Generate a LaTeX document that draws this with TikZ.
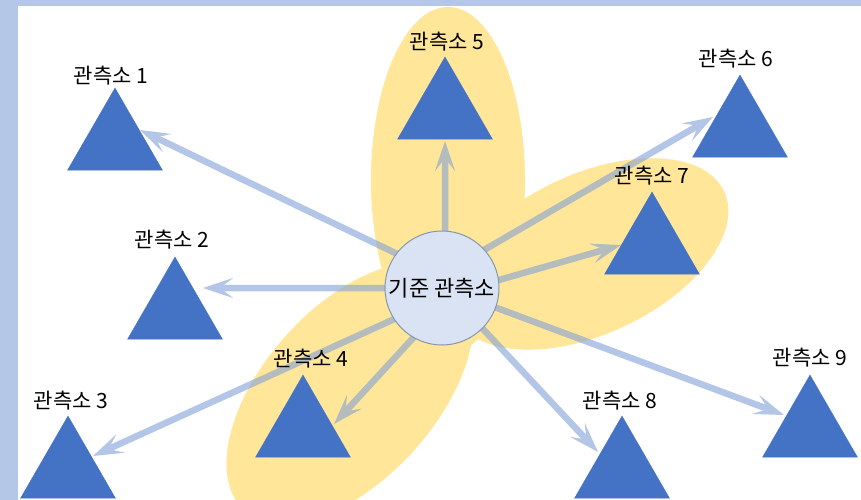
\documentclass[tikz,border=0pt]{standalone}
\usepackage{fontspec}
\setmainfont{Noto Sans CJK KR}
\usetikzlibrary{shapes.geometric,arrows.meta}
\definecolor{bandc}{HTML}{B4C7E7}
\definecolor{yel}{HTML}{FFE699}
\definecolor{tric}{HTML}{4472C4}
\definecolor{cfill}{HTML}{DAE3F3}
\definecolor{cline}{HTML}{8497B0}
\definecolor{arrc}{RGB}{130,160,215}
\pgfdeclarelayer{bg}
\pgfdeclarelayer{arr}
\pgfsetlayers{bg,arr,main}
\begin{document}
\begin{tikzpicture}[x=1pt,y=-1pt,
  tri/.style={regular polygon, regular polygon sides=3, minimum size=109.7pt, inner sep=0pt, fill=tric, draw=tric, line width=0.3pt},
  lab/.style={font=\fontsize{21}{24}\selectfont, text=black, inner sep=0pt},
  flow/.style={draw=arrc, line width=6.5pt, -{Stealth[length=30pt,width=20pt,inset=13pt]}, shorten <=-6pt},
  hub/.style={circle, minimum size=114pt, inner sep=0pt, fill=cfill, draw=cline, line width=1pt, font=\fontsize{22}{26}\selectfont},
  zone/.style={fill=yel}]
\useasboundingbox (0,0) rectangle (861,500);
% main nodes
\node[hub] (c) at (442,288) {기준 관측소};
\node[tri] (t1) at (115,142.8) {};
\node[tri] (t2) at (175,311.8) {};
\node[tri] (t3) at (68,470.8) {};
\node[tri] (t4) at (303,429.8) {};
\node[tri] (t5) at (445,111.8) {};
\node[tri] (t6) at (740,129.8) {};
\node[tri] (t7) at (652,246.8) {};
\node[tri] (t8) at (622,470.8) {};
\node[tri] (t9) at (810,429.8) {};
\node[lab] (l1) at (111,76) {관측소 1};
\node[lab] (l2) at (172,240) {관측소 2};
\node[lab] (l3) at (71,401) {관측소 3};
\node[lab] (l4) at (311,359) {관측소 4};
\node[lab] (l5) at (447,42) {관측소 5};
\node[lab] (l6) at (736,59) {관측소 6};
\node[lab] (l7) at (652,176) {관측소 7};
\node[lab] (l8) at (620,401) {관측소 8};
\node[lab] (l9) at (810,358) {관측소 9};
% arrow end points
\coordinate (e1) at (140,130);
\coordinate (e2) at (203,288);
\coordinate (e3) at (93,456);
\coordinate (e4) at (334,424);
\coordinate (e5) at (445,141);
\coordinate (e6) at (713,117);
\coordinate (e7) at (621,245);
\coordinate (e8) at (598,452);
\coordinate (e9) at (784,415);
\begin{pgfonlayer}{bg}
\fill[bandc] (0,0) rectangle (861,500);
\fill[white] (18,6) rectangle (861,500);
\fill[zone] (448,180) ellipse (77 and 173);
\fill[zone, rotate around={25:(590,254)}] (590,254) ellipse (148 and 80);
\fill[zone, rotate around={48:(350,393)}] (350,393) ellipse (158 and 86);
\end{pgfonlayer}
\begin{pgfonlayer}{arr}
\begin{scope}[transparency group, opacity=0.6]
\draw[flow] (c.143) -- (e1);
\draw[flow] (c.180) -- (e2);
\draw[flow] (c.213) -- (e3);
\draw[flow] (c.240) -- (e4);
\draw[flow] (c.87) -- (e5);
\draw[flow] (c.42) -- (e6);
\draw[flow] (c.8) -- (e7);
\draw[flow] (c.-45) -- (e8);
\draw[flow] (c.-20) -- (e9);
\end{scope}
\end{pgfonlayer}
\end{tikzpicture}
\end{document}
